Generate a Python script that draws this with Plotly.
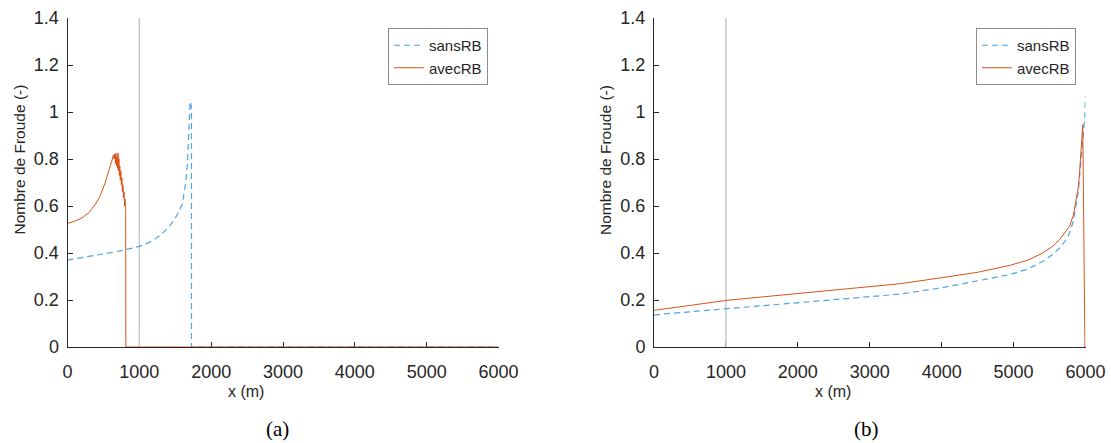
import plotly.graph_objects as go

W, H = 1111, 443

# ---------------- data ----------------
# panel (a)
xa_sans = [0, 250, 500, 750, 1000, 1100, 1200, 1300, 1400, 1483, 1550, 1600, 1646, 1670, 1685, 1697, 1707, 1726, 1726, 6000]
ya_sans = [0.370, 0.382, 0.396, 0.410, 0.428, 0.440, 0.455, 0.478, 0.506, 0.540, 0.575, 0.611, 0.700, 0.782, 0.870, 0.966, 1.044, 1.02, 0.0, 0.0]

xa_avec = [0, 100, 200, 300, 383, 450, 522, 560, 592, 620, 638, 650, 660, 668, 675, 682, 690, 697, 704, 710,
           716, 722, 728, 735, 742, 750, 757, 765, 772, 780, 787, 795, 801, 806, 810, 812, 6000]
ya_avec = [0.526, 0.535, 0.549, 0.572, 0.605, 0.640, 0.697, 0.730, 0.767, 0.795, 0.817, 0.800, 0.822, 0.780, 0.824, 0.770,
           0.810, 0.760, 0.826, 0.750, 0.800, 0.730, 0.770, 0.710, 0.750, 0.690, 0.720, 0.660, 0.690, 0.635, 0.660,
           0.600, 0.630, 0.595, 0.590, 0.0, 0.0]

# panel (b)
xb_sans = [0, 500, 1000, 1500, 2000, 2500, 3000, 3417, 4000, 4500, 4944, 5200, 5407, 5550, 5639, 5720, 5778, 5830,
           5870, 5900, 5926, 5950, 5972, 5990, 6000]
yb_sans = [0.137, 0.150, 0.162, 0.175, 0.187, 0.199, 0.212, 0.225, 0.252, 0.280, 0.308, 0.332, 0.364, 0.395, 0.421,
           0.452, 0.485, 0.535, 0.598, 0.660, 0.754, 0.830, 0.900, 0.980, 1.066]

xb_avec = [0, 500, 1000, 1500, 2000, 2500, 3000, 3417, 4000, 4500, 4944, 5200, 5407, 5550, 5639, 5720, 5778, 5830,
           5870, 5900, 5917, 5940, 5962, 5992]
yb_avec = [0.156, 0.177, 0.198, 0.213, 0.228, 0.243, 0.257, 0.269, 0.295, 0.318, 0.347, 0.370, 0.400, 0.430, 0.457,
           0.487, 0.513, 0.560, 0.627, 0.680, 0.740, 0.850, 0.946, 0.0]

x_marker = 1000          # vertical reference line
x_ticks = [0, 1000, 2000, 3000, 4000, 5000, 6000]
y_ticks = [0, 0.2, 0.4, 0.6, 0.8, 1, 1.2, 1.4]
y_ticklabels = ["0", "0.2", "0.4", "0.6", "0.8", "1", "1.2", "1.4"]
names = ["sansRB", "avecRB"]
captions = ["(a)", "(b)"]
x_title = "x (m)"
y_title = "Nombre de Froude (-)"

# ---------------- styling ----------------
BLUE = "#4DA6E3"
ORANGE = "#D95319"
GRAY = "#C8C8C8"
AX = "#262626"
FONT = "Liberation Sans"

def px(x):
    return x / W

def py(y):
    return 1 - y / H

panels = [
    dict(xd=[px(67.5), px(498.5)], xs=xa_sans, ys=ya_sans, xv=xa_avec, yv=ya_avec, legend="legend"),
    dict(xd=[px(654), px(1085.5)], xs=xb_sans, ys=yb_sans, xv=xb_avec, yv=yb_avec, legend="legend2"),
]
ydom = [py(347), py(18)]

fig = go.Figure()
layout = dict(width=W, height=H, margin=dict(l=0, r=0, t=0, b=0),
              paper_bgcolor="white", plot_bgcolor="white", showlegend=True)

for i, p in enumerate(panels):
    sfx = "" if i == 0 else str(i + 1)
    xa, ya = "x" + sfx, "y" + sfx
    fig.add_trace(go.Scatter(x=[x_marker, x_marker], y=[0, 1.4], mode="lines",
                             line=dict(color=GRAY, width=1.5), showlegend=False,
                             xaxis=xa, yaxis=ya, hoverinfo="skip"))
    fig.add_trace(go.Scatter(x=p["xs"], y=p["ys"], mode="lines", name=names[0],
                             line=dict(color=BLUE, width=1.2, dash="6px,4px"),
                             xaxis=xa, yaxis=ya, legend=p["legend"]))
    fig.add_trace(go.Scatter(x=p["xv"], y=p["yv"], mode="lines", name=names[1],
                             line=dict(color=ORANGE, width=1.0),
                             xaxis=xa, yaxis=ya, legend=p["legend"]))
    layout["xaxis" + sfx] = dict(domain=p["xd"], anchor=ya, range=[0, 6000], tickvals=x_ticks,
                                 showgrid=False, zeroline=False, showline=True, linecolor=AX, linewidth=1,
                                 ticks="inside", ticklen=5, tickcolor=AX, tickwidth=1,
                                 tickfont=dict(family=FONT, size=18, color=AX),
                                 ticklabelstandoff=8, layer="below traces", automargin=False)
    layout["yaxis" + sfx] = dict(domain=ydom, anchor=xa, range=[0, 1.4], tickvals=y_ticks,
                                 ticktext=y_ticklabels,
                                 showgrid=False, zeroline=False, showline=True, linecolor=AX, linewidth=1,
                                 ticks="inside", ticklen=5, tickcolor=AX, tickwidth=1,
                                 tickfont=dict(family=FONT, size=18, color=AX),
                                 ticklabelstandoff=4, layer="below traces", automargin=False)

leg_common = dict(bgcolor="white", bordercolor="#8C8C8C", borderwidth=1,
                  font=dict(family=FONT, size=15, color=AX), xanchor="right", yanchor="top",
                  tracegroupgap=0, itemwidth=30)
layout["legend"] = dict(x=px(488), y=py(28), **leg_common)
layout["legend2"] = dict(x=px(1076), y=py(28), **leg_common)

ann = []
for cx, cap in [(246, x_title), (833, x_title)]:
    ann.append(dict(x=px(cx), y=py(391), xref="paper", yref="paper", text=cap, showarrow=False,
                    font=dict(family=FONT, size=16, color=AX), xanchor="center", yanchor="middle"))
for cx in [19.5, 606]:
    ann.append(dict(x=px(cx), y=py(160), xref="paper", yref="paper", text=y_title, showarrow=False,
                    textangle=-90, font=dict(family=FONT, size=15.5, color=AX),
                    xanchor="center", yanchor="middle"))
for cx, cap in [(277, captions[0]), (866, captions[1])]:
    ann.append(dict(x=px(cx), y=py(429), xref="paper", yref="paper", text=cap, showarrow=False,
                    font=dict(family="Liberation Serif", size=21, color="black"),
                    xanchor="center", yanchor="middle"))
layout["annotations"] = ann

fig.update_layout(**layout)
fig.write_html("out.html", config={"displayModeBar": False},
               post_script="document.body.style.margin='0';document.body.style.overflow='hidden';")
